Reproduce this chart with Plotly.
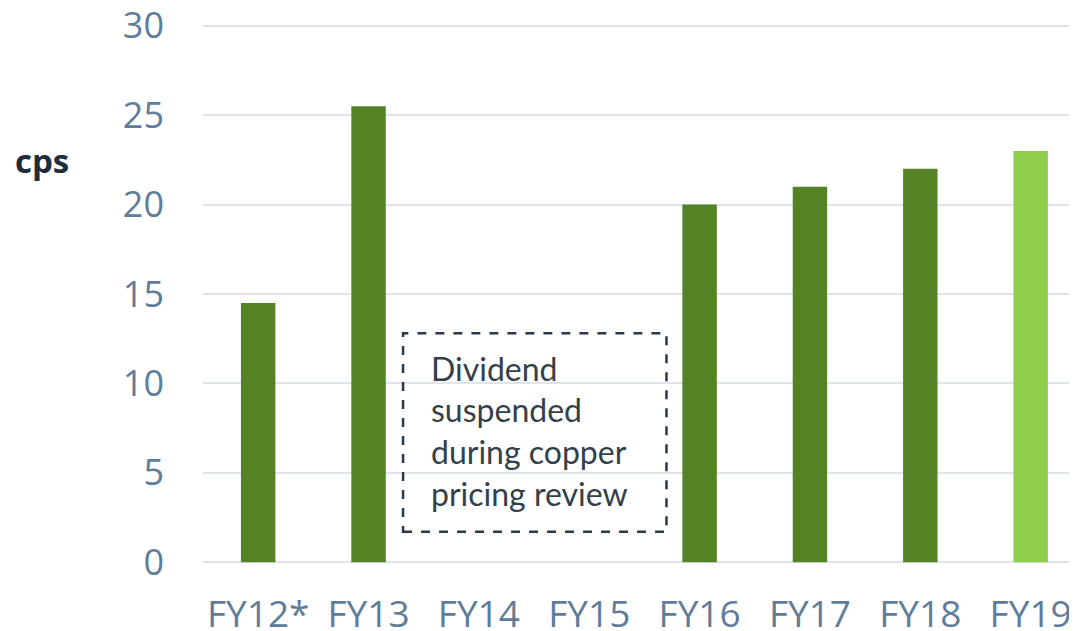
import plotly.graph_objects as go

categories = ["FY12*", "FY13", "FY14", "FY15", "FY16", "FY17", "FY18", "FY19"]
values = [14.5, 25.5, None, None, 20, 21, 22, 23]
bar_colors = ["#558224", "#558224", "#558224", "#558224", "#558224", "#558224", "#558224", "#8fce4a"]
y_ticks = [0, 5, 10, 15, 20, 25, 30]
note_lines = ["Dividend", "suspended", "during copper", "pricing review"]

fig = go.Figure()
fig.add_trace(go.Bar(
    x=categories, y=values, marker=dict(color=bar_colors, line=dict(width=0)),
    width=0.312, showlegend=False,
))

fig.update_layout(
    width=1069, height=623,
    margin=dict(l=195, r=0, t=16, b=67, autoexpand=False),
    paper_bgcolor="white", plot_bgcolor="white",
    xaxis=dict(
        type="category", range=[-0.5, 7.42], showgrid=False, showline=False,
        zeroline=False, tickfont=dict(family="Open Sans", size=37, color="#5f7d9b"),
        ticklabelstandoff=25, ticklabeloverflow="allow", automargin=False,
    ),
    yaxis=dict(
        range=[-0.1, 30.1], tickvals=y_ticks, showgrid=True, gridcolor="#dde4ec",
        gridwidth=1.5, zeroline=False, showline=False,
        tickfont=dict(family="Open Sans", size=36, color="#5f7d9b"),
        ticklabelstandoff=38, ticklabeloverflow="allow", automargin=False,
    ),
)

# y-axis title "cps"
fig.add_annotation(
    xref="paper", yref="y", x=-0.2174, y=22.45, xanchor="left", yanchor="middle",
    text="<b>cps</b>", showarrow=False,
    font=dict(family="Open Sans", size=33, color="#1f2d3d"),
)

# dashed note box
fig.add_shape(
    type="rect", xref="x", yref="y", x0=1.313, x1=3.70, y0=1.7, y1=12.8,
    line=dict(color="#2b3a48", width=2.5, dash="dash"), fillcolor="rgba(0,0,0,0)",
)
for i, line in enumerate(note_lines):
    fig.add_annotation(
        xref="x", yref="y", x=1.55, y=10.85 - i * 2.333, xanchor="left", yanchor="middle",
        text=line, showarrow=False,
        font=dict(family="Lato", size=32, color="#333f4a"),
    )

fig.write_html("out.html")
